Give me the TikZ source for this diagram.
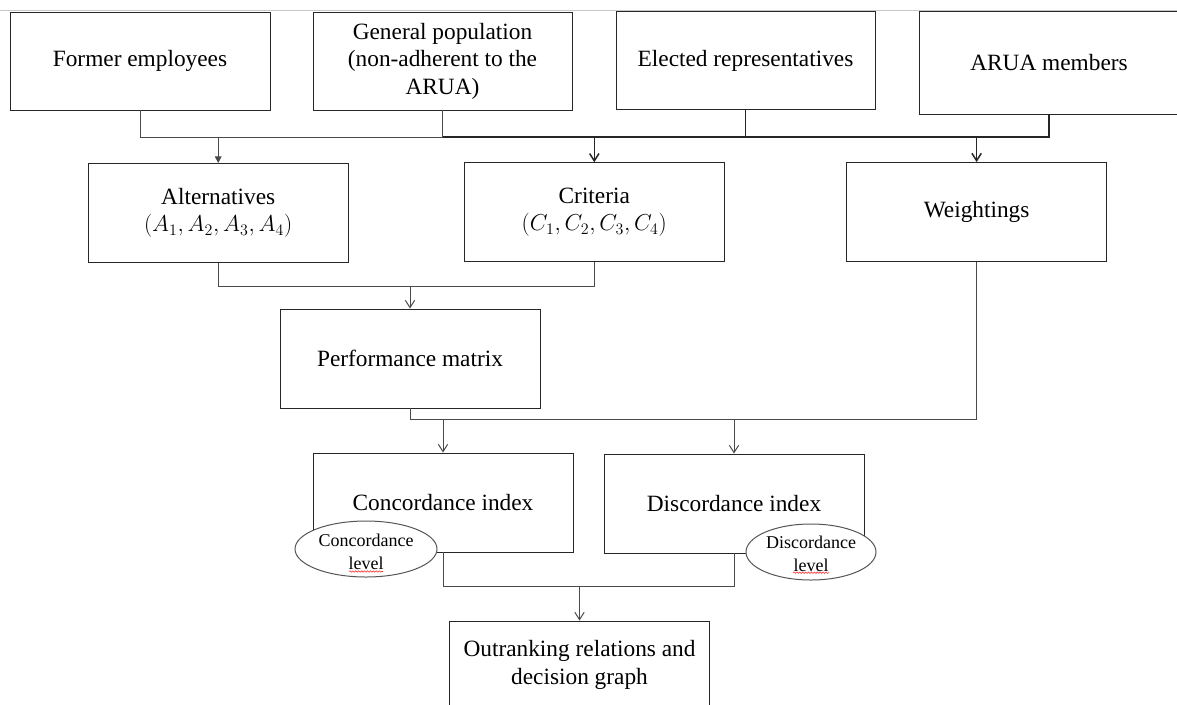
\documentclass[tikz,border=0pt]{standalone}
\usepackage{fontspec}
\setmainfont{Liberation Serif}
\usetikzlibrary{arrows.meta,calc,shapes.geometric,decorations.pathmorphing}
\definecolor{boxcol}{HTML}{262626}
\definecolor{conncol}{HTML}{4A4A4A}
\definecolor{ellcol}{HTML}{555555}
\definecolor{topline}{HTML}{C8C8C8}
\begin{document}
\begin{tikzpicture}[x=0.75pt,y=-0.75pt,
  box/.style={draw=boxcol, line width=0.7pt, fill=white, minimum width=195pt,
    minimum height=74.25pt, inner sep=2pt, align=center,
    font=\fontsize{17.5}{20.6}\selectfont},
  conn/.style={draw=conncol, line width=0.75pt},
  connthick/.style={draw=boxcol, line width=1.1pt},
  arrfill/.style={conn, -{Triangle[length=5pt,width=5pt]}},
  arrthin/.style={conn, -{Straight Barb[length=5.5pt,width=7pt]}},
  arrthick/.style={connthick, -{Straight Barb[length=5.5pt,width=7pt]}},
  ell/.style={ellipse, draw=ellcol, line width=0.75pt, fill=white, inner sep=0pt},
  elltext/.style={align=center, inner sep=0pt, font=\fontsize{13.5}{17.2}\selectfont},
  spell/.style={draw=red!85, line width=0.4pt, decorate,
    decoration={snake, segment length=2.2pt, amplitude=0.55pt}}
]
\useasboundingbox (0,0) rectangle (1177,704);
\clip (0,0) rectangle (1177,704);
\fill[white] (0,0) rectangle (1177,704);
\draw[topline, line width=0.75pt] (0,10) -- (1177,10);

% top row
\node[box, minimum height=73.5pt] (fe) at (140,61) {Former employees};
\node[box, minimum height=73.5pt, minimum width=194.25pt] (gp) at (442.5,61) {General population\\(non-adherent to the\\ARUA)};
\node[box, minimum height=73.2pt, minimum width=194.25pt] (er) at (745.5,60.5) {Elected representatives};
\node[box, minimum height=77.25pt] (arua) at (1049,62.7) {ARUA members};

% second row
\node[box] (alt) at (218.2,213) {Alternatives\\$(A_1, A_2, A_3, A_4)$};
\node[box] (crit) at (594.3,212.2) {Criteria\\$(C_1, C_2, C_3, C_4)$};
\node[box] (wt) at (976.6,212) {Weightings};

% third row
\node[box] (pm) at (410,358.5) {Performance matrix};

% fourth row
\node[box] (ci) at (443,502.5) {Concordance index};
\node[box] (di) at (734,503.5) {Discordance index};

% bottom
\node[box, minimum height=66pt] (out) at (579.5,665) {Outranking relations and\\decision graph};

% junction levels
\coordinate (j1) at (0,137);
\coordinate (j2) at (0,286);
\coordinate (j3) at (0,419);
\coordinate (j4) at (0,586.5);

% connectors top
\draw[conn] (fe.south) -- (fe.south |- j1) -- (gp.south |- j1);
\draw[conn] (gp.south) -- (gp.south |- j1);
\draw[connthick] (gp.south |- j1) -- (arua.south |- j1) -- (arua.south);
\draw[connthick] (er.south) -- (er.south |- j1);
\draw[arrfill] (alt.north |- j1) -- (alt.north);
\draw[arrthick] (crit.north |- j1) -- (crit.north);
\draw[arrthick] (wt.north |- j1) -- (wt.north);

% connectors second
\draw[conn] (alt.south) -- (alt.south |- j2) -- (crit.south |- j2) -- (crit.south);
\draw[arrthin] (pm.north |- j2) -- (pm.north);

% connectors third
\draw[conn] (pm.south) -- (pm.south |- j3) -- (wt.south |- j3) -- (wt.south);
\draw[arrthin] (ci.north |- j3) -- (ci.north);
\draw[arrthin] (di.north |- j3) -- (di.north);

% connectors fourth
\draw[conn] (ci.south) -- (ci.south |- j4) -- (di.south |- j4) -- (di.south);
\draw[arrthin] (out.north |- j4) -- (out.north);

% ellipses
\node[ell, minimum width=106.5pt, minimum height=42pt] (cl) at (366,549) {};
\node[elltext] (clt) at ($(cl.center)+(0,2.5)$) {Concordance\\level};
\draw[spell] ($(cl.center)+(-17,22.5)$) -- ($(cl.center)+(17,22.5)$);

\node[ell, minimum width=97.5pt, minimum height=42pt] (dl) at (811,552) {};
\node[elltext] (dlt) at ($(dl.center)+(0,2)$) {Discordance\\level};
\draw[spell] ($(dl.center)+(-18,20.7)$) -- ($(dl.center)+(18,20.7)$);
\end{tikzpicture}
\end{document}
